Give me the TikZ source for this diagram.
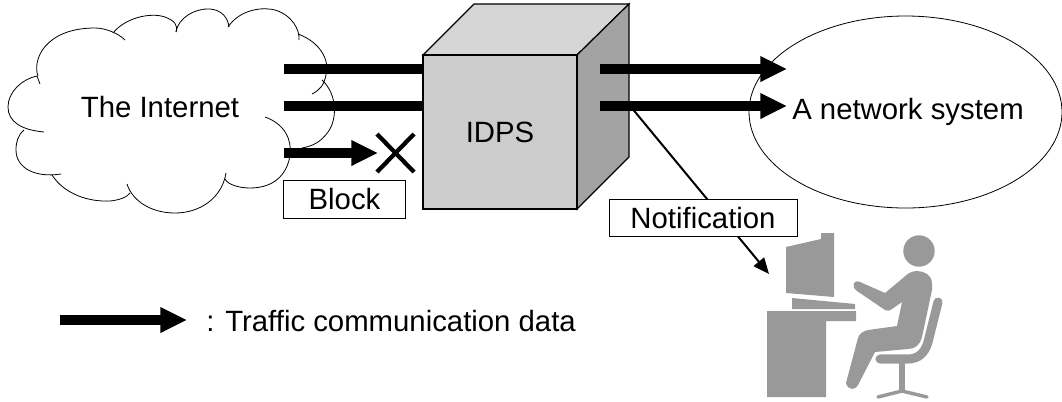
\documentclass[tikz,border=0pt]{standalone}
\usepackage{fontspec}
\setmainfont{Liberation Sans}
\usetikzlibrary{arrows.meta}

\tikzset{
  flow/.style={line width=7.2pt,-{Triangle[length=20pt,width=18pt]}},
  flowplain/.style={line width=7.2pt},
  lobe/.style={line width=0.6pt},
  label/.style={inner sep=0.75pt,font=\fontsize{22}{24}\selectfont},
  tag/.style={draw,fill=white,line width=0.6pt,inner sep=0pt,font=\fontsize{22}{24}\selectfont},
  figure/.style={color={rgb, 255:red, 153; green, 153; blue, 153 },fill={rgb, 255:red, 153; green, 153; blue, 153 }},
  limb/.style={color={rgb, 255:red, 153; green, 153; blue, 153 },line cap=round,line join=round}
}

\begin{document}
\begin{tikzpicture}[x=0.75pt,y=0.75pt,yscale=-1,xscale=1]
\useasboundingbox (0,0) rectangle (1062,401);

%Curve Lines: cloud
\draw [lobe] (44,132) .. controls (22,130) and (8,122) .. (8,107) .. controls (8,92) and (22,79) .. (37,76) -- (40,84) ;
\draw [lobe] (38,76) .. controls (32,60) and (45,28) .. (95,28) .. controls (105,28) and (118,33) .. (125,40) ;
\draw [lobe] (113,33) .. controls (125,18) and (150,12) .. (165,17) .. controls (175,21) and (178,25) .. (176,32) ;
\draw [lobe] (176,32) .. controls (178,18) and (195,8) .. (210,9) .. controls (222,10) and (228,18) .. (229,27) ;
\draw [lobe] (228,27) .. controls (238,12) and (258,6) .. (275,10) .. controls (292,15) and (300,30) .. (299,40) ;
\draw [lobe] (298,34) .. controls (320,42) and (330,60) .. (326,75) .. controls (324,85) and (320,90) .. (312,94) ;
\draw [lobe] (322,80) .. controls (338,95) and (337,120) .. (328,132) .. controls (320,143) and (312,146) .. (302,148) ;
\draw [lobe] (265,117) .. controls (285,124) and (292,140) .. (290,155) .. controls (288,170) and (278,188) .. (250,188) .. controls (240,188) and (228,185) .. (225,179) ;
\draw [lobe] (226,173) .. controls (222,198) and (200,213) .. (175,213) .. controls (150,213) and (132,200) .. (127,184) ;
\draw [lobe] (52,175) .. controls (65,195) and (90,202) .. (110,201) .. controls (120,200) and (127,197) .. (130,193) ;
\draw [lobe] (61,174) .. controls (35,178) and (16,168) .. (16,150) .. controls (16,142) and (18,135) .. (24,130) ;

%Shape: Ellipse
\draw [lobe] (905.5,112) ellipse [x radius=156.5,y radius=96] ;

% Anchors
\coordinate (inA) at (284,69);
\coordinate (inB) at (284,106);
\coordinate (inC) at (284,153);
\coordinate (inAend) at (430,69);
\coordinate (inBend) at (430,106);
\coordinate (inCend) at (378,153);
\coordinate (outA) at (600,69);
\coordinate (outB) at (600,106);
\coordinate (outAend) at (787,69);
\coordinate (outBend) at (787,106);
\coordinate (noteStart) at (631,107);
\coordinate (noteEnd) at (769,274);
\coordinate (crossA) at (377,134);
\coordinate (crossB) at (414,172);
\coordinate (crossC) at (414,134);
\coordinate (crossD) at (377,172);
\coordinate (legendA) at (60,320);
\coordinate (legendB) at (187,320);

%Straight Lines: incoming traffic
\draw [flowplain] (inA) -- (inAend) ;
\draw [flowplain] (inB) -- (inBend) ;
\draw [flow] (inC) -- (inCend) ;
\draw [line width=3.2pt] (crossA) -- (crossB) ;
\draw [line width=3.2pt] (crossC) -- (crossD) ;

%Shape: Cube
\draw [line width=0.9pt,fill={rgb, 255:red, 214; green, 214; blue, 214 }] (423,55) -- (474,4) -- (629,4) -- (577,55) -- cycle ;
\draw [line width=0.9pt,fill={rgb, 255:red, 163; green, 163; blue, 163 }] (577,55) -- (629,4) -- (629,157) -- (577,209) -- cycle ;
\node (idps) [draw,line width=0.9pt,fill={rgb, 255:red, 204; green, 204; blue, 204 },minimum width=115.5pt,minimum height=115.5pt,inner sep=0pt,font=\fontsize{22}{24}\selectfont] at (500,132) {IDPS};

%Straight Lines: outgoing traffic
\draw [flow] (outA) -- (outAend) ;
\draw [flow] (outB) -- (outBend) ;
\draw [line width=1.5pt,-{Triangle[length=12pt,width=10pt]}] (noteStart) -- (noteEnd) ;
\draw [flow] (legendA) -- (legendB) ;

% Text Node
\node (internet) [label] at (160,107) {The Internet};
\node (network) [label] at (908,112) {A network system};
\node (block) [tag,minimum width=91pt,minimum height=28pt] at (344.5,199.5) {Block};
\node (notification) [tag,minimum width=141pt,minimum height=28pt] at (703,218) {Notification};
\node (legend) [label,anchor=west] at (205,321) {: Traffic communication data};

%Shape: Monitor, keyboard, desk
\fill [figure] (786,247) -- (821,239) -- (821,233) -- (834,233) -- (834,297) -- (786,293) -- cycle ;
\fill [figure] (792,298) -- (855,304) -- (855,309) -- (792,309) -- cycle ;
\fill [figure] (767,311) -- (856,311) -- (856,321) -- (826,321) -- (826,397) -- (767,397) -- cycle ;

%Shape: Person
\fill [figure] (919,251) circle [radius=15.7] ;
\fill [figure] (917,271) .. controls (924,271) and (932,275) .. (932,284) -- (932,290) -- (922,337) .. controls (920,345) and (915,349) .. (908,349) -- (875,352) -- (858,385) .. controls (856,390) and (848,391) .. (846,383) -- (858,338) .. controls (859,334) and (863,331) .. (868,330) -- (897,326) -- (902,302) -- (892,309) .. controls (889,311) and (887,311) .. (885,310) -- (857,291) .. controls (851,287) and (853,279) .. (860,282) -- (885,293) -- (903,278) .. controls (907,274) and (911,271) .. (917,271) -- cycle ;

%Shape: Chair
\draw [limb,line width=6.8pt] (938,302) -- (928,342) .. controls (925,353) and (918,359) .. (908,359) -- (880,359) ;
\draw [limb,line width=4.4pt,line cap=butt] (902,360) -- (902,392) ;
\draw [limb,line width=2.6pt] (878,397) -- (902,391) -- (927,397) ;

\end{tikzpicture}
\end{document}
